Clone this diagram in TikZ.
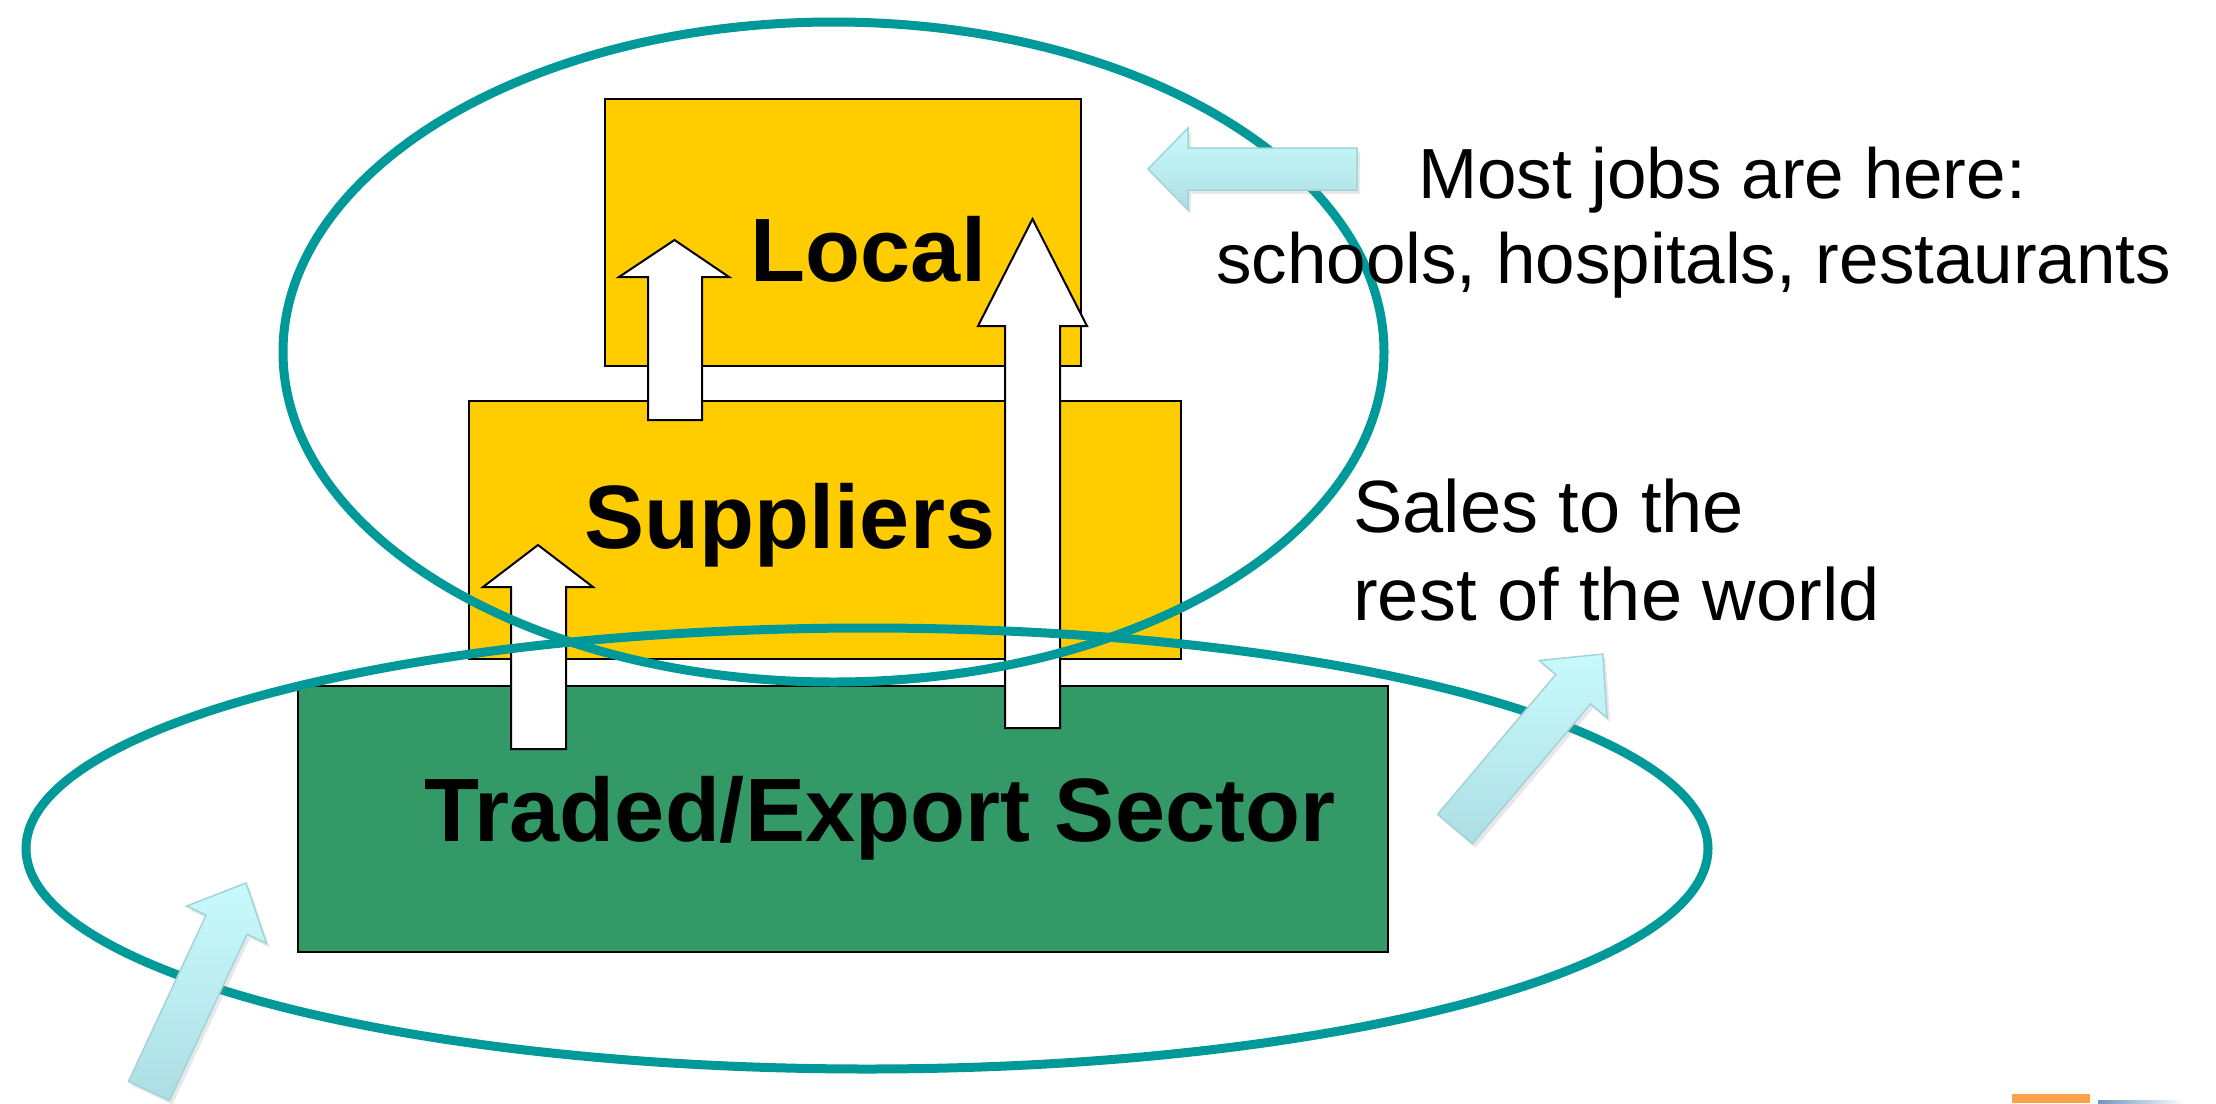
\documentclass[tikz,border=0pt]{standalone}
\usepackage{fontspec}
\setmainfont{Liberation Sans}
\definecolor{boxyellow}{HTML}{FFCC00}
\definecolor{boxgreen}{HTML}{339966}
\definecolor{ringteal}{HTML}{009999}
\definecolor{cyanlight}{HTML}{C8FAFD}
\definecolor{cyandark}{HTML}{ADDEE3}
\definecolor{cyanedge}{HTML}{A2D3D8}
\definecolor{cornerorange}{HTML}{FBA24B}
\definecolor{cornerblue}{HTML}{6F95C0}
\newcommand\cyanarr[6]{% #1 x, #2 y (tail centre), #3 angle, #4 shaft length, #5 head length, #6 half shaft width
  \pgfmathsetmacro\cyhw{#6*1.95}%
  \pgfmathsetmacro\cytip{#4+#5}%
  \begin{scope}[shift={(#1+3,#2+4)}, rotate=#3]
    \fill[black!45, opacity=0.20] (0,-#6) -- (#4,-#6) -- (#4,-\cyhw) -- (\cytip,0) -- (#4,\cyhw) -- (#4,#6) -- (0,#6) -- cycle;
  \end{scope}
  \begin{scope}[shift={(#1,#2)}, rotate=#3]
    \shade[top color=cyanlight, bottom color=cyandark, draw=cyanedge, line width=1.5pt, line join=miter]
      (0,-#6) -- (#4,-#6) -- (#4,-\cyhw) -- (\cytip,0) -- (#4,\cyhw) -- (#4,#6) -- (0,#6) -- cycle;
  \end{scope}
}
\begin{document}
\begin{tikzpicture}[x=1pt, y=-1pt,
  box/.style={draw=black, line width=2pt, inner sep=0pt, anchor=north west},
  whitearrow/.style={fill=white, draw=black, line width=2pt, line join=miter},
  ring/.style={draw=ringteal, line width=9pt},
  boldlabel/.style={font=\fontsize{90}{100}\selectfont\bfseries, inner sep=0pt, anchor=base},
  plainlabel/.style={font=\fontsize{71}{85}\selectfont, inner sep=0pt, anchor=base west},
  saleslabel/.style={font=\fontsize{74}{88}\selectfont, inner sep=0pt, anchor=base west}]
\useasboundingbox (0,0) rectangle (2216,1103);
\fill[white] (0,0) rectangle (2216,1103);

% boxes
\node[box, fill=boxgreen, minimum width=1090pt, minimum height=266pt] (traded) at (297,685) {};
\node[box, fill=boxyellow, minimum width=712pt, minimum height=258pt] (suppliers) at (468,400) {};
\node[box, fill=boxyellow, minimum width=476.5pt, minimum height=267pt] (local) at (603.5,97.5) {};

% white block arrows
\draw[whitearrow] (648,420) -- (648,277) -- (619,277) -- (674.5,240) -- (729,277) -- (702,277) -- (702,420) -- cycle;
\draw[whitearrow] (511,749) -- (511,587) -- (483,587) -- (538,545) -- (593,587) -- (566,587) -- (566,749) -- cycle;
\draw[whitearrow] (1005,728) -- (1005,326) -- (978,326) -- (1032.5,219) -- (1087,326) -- (1060,326) -- (1060,728) -- cycle;

% ellipses
\draw[ring] (833.5,352) ellipse [x radius=550.5, y radius=330];
\draw[ring] (867,848.5) ellipse [x radius=841, y radius=220.5];

% cyan arrows
\cyanarr{1357}{169}{180}{169}{40}{21}
\cyanarr{149}{1091}{65}{183.5}{46}{22.6}
\cyanarr{1455}{829}{49.8}{183}{46}{22.8}

% corner slivers
\fill[cornerorange] (2012,1094) rectangle (2090,1103);
\shade[left color=cornerblue, right color=white] (2098,1100) rectangle (2185,1103);

% texts
\node[boldlabel] (localtext) at (868.5,281) {Local};
\node[boldlabel] (supptext) at (790,548) {Suppliers};
\node[boldlabel] (tradedtext) at (880,841) {Traded/Export Sector};
\node[plainlabel] (most) at (1418,198) {Most jobs are here:};
\node[plainlabel] (schools) at (1216,283) {schools, hospitals, restaurants};
\node[saleslabel] (sales) at (1353,532) {Sales to the};
\node[saleslabel] (rest) at (1353,620) {rest of the world};
\end{tikzpicture}
\end{document}
